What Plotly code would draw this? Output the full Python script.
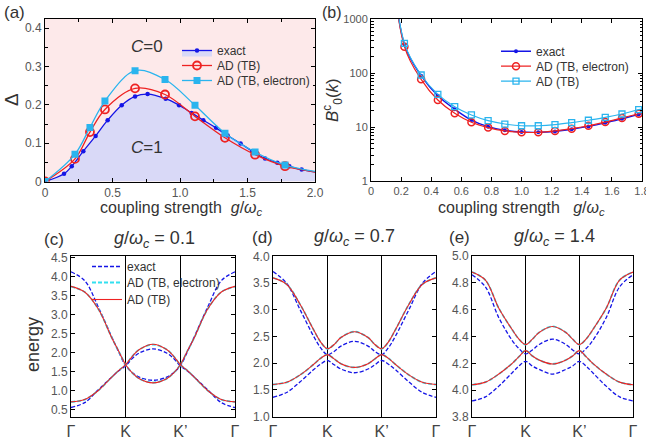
import plotly.graph_objects as go

W, H = 646, 441
FONT = "Liberation Sans, Arial, sans-serif"
BLUE = "#1515e6"
RED = "#ee2222"
CYAN_A = "#2ab4ee"
CYAN_D = "#33e0f0"

# ---------------- panel (a): gap vs coupling ----------------
a_exact_x = [0, 0.141, 0.198, 0.284, 0.375, 0.464, 0.568, 0.667, 0.760, 0.894, 0.993,
             1.086, 1.173, 1.267, 1.353, 1.449, 1.536, 1.630, 1.721, 1.810, 1.901, 2.08]
a_exact_y = [0, 0.020, 0.040, 0.079, 0.119, 0.160, 0.199, 0.222, 0.228, 0.216, 0.199,
             0.179, 0.160, 0.140, 0.120, 0.099, 0.079, 0.060, 0.049, 0.040, 0.031, 0.021]
a_ad_x = [0, 0.222, 0.333, 0.444, 0.667, 0.889, 1.111, 1.333, 1.556, 1.778, 2.222]
a_tb_y = [0, 0.059, 0.129, 0.188, 0.243, 0.227, 0.170, 0.114, 0.070, 0.040, 0.014]
a_tbe_y = [0, 0.071, 0.141, 0.210, 0.289, 0.266, 0.199, 0.126, 0.077, 0.043, 0.015]

# ---------------- panel (b): B_0^c(k) vs coupling ----------------
b_x = [0.111, 0.222, 0.333, 0.444, 0.556, 0.667, 0.778, 0.889, 1.0, 1.111, 1.222,
       1.333, 1.444, 1.556, 1.667, 1.778, 1.889]
b_exact = [1e5, 340, 90, 38, 21.5, 13.5, 10.2, 8.7, 8.1, 8.0, 8.3, 9.1, 10.3, 12.0,
           14.3, 17.2, 20.5]
b_tbe = [1e5, 311, 77, 31.8, 18.0, 12.3, 9.8, 8.5, 8.0, 8.0, 8.5, 9.35, 10.6, 12.4,
         14.8, 17.7, 21.0]
b_tb = [1e5, 358, 92.6, 40.5, 23.9, 16.8, 13.2, 11.4, 10.6, 10.6, 11.1, 12.1, 13.4,
        15.2, 17.5, 21.1, 25.0]

# ---------------- panels (c)-(e): band structures ----------------
k_path = [0, 0.25, 0.5, 0.75, 0.875, 1, 1.125, 1.25, 1.5, 1.75, 1.875, 2, 2.125,
          2.25, 2.5, 2.75, 3]
k_ticks = [0, 1, 2, 3]
k_labels = ["Γ", "K", "K’", "Γ"]

c_exact_1 = [4.13, 3.90, 3.20, 2.40, 2.01, 1.65, 1.47, 1.35, 1.27, 1.35, 1.47, 1.65, 2.01, 2.40, 3.20, 3.90, 4.13]
c_exact_2 = [0.55, 0.68, 1.02, 1.36, 1.52, 1.65, 1.85, 1.99, 2.10, 1.99, 1.85, 1.65, 1.52, 1.36, 1.02, 0.68, 0.55]
c_tbe_1 = [3.74, 3.60, 3.15, 2.38, 2.03, 1.68, 1.46, 1.31, 1.21, 1.31, 1.46, 1.68, 2.03, 2.38, 3.15, 3.60, 3.74]
c_tbe_2 = [0.70, 0.76, 1.00, 1.36, 1.53, 1.68, 1.91, 2.08, 2.21, 2.08, 1.91, 1.68, 1.53, 1.36, 1.00, 0.76, 0.70]
c_tb_1 = [3.75, 3.60, 3.15, 2.38, 2.03, 1.68, 1.46, 1.31, 1.20, 1.31, 1.46, 1.68, 2.03, 2.38, 3.15, 3.60, 3.75]
c_tb_2 = [0.70, 0.76, 1.00, 1.36, 1.53, 1.68, 1.91, 2.08, 2.22, 2.08, 1.91, 1.68, 1.53, 1.36, 1.00, 0.76, 0.70]

d_exact_1 = [3.72, 3.50, 3.00, 2.50, 2.29, 2.16, 2.22, 2.32, 2.41, 2.32, 2.22, 2.16, 2.29, 2.50, 3.00, 3.50, 3.72]
d_exact_2 = [1.36, 1.45, 1.65, 1.88, 1.98, 2.05, 1.97, 1.89, 1.82, 1.89, 1.97, 2.05, 1.98, 1.88, 1.65, 1.45, 1.36]
d_tbe_1 = [3.60, 3.48, 3.10, 2.62, 2.40, 2.27, 2.35, 2.48, 2.59, 2.48, 2.35, 2.27, 2.40, 2.62, 3.10, 3.48, 3.60]
d_tbe_2 = [1.60, 1.64, 1.78, 1.98, 2.09, 2.16, 2.08, 1.99, 1.92, 1.99, 2.08, 2.16, 2.09, 1.98, 1.78, 1.64, 1.60]
d_tb_1 = [3.60, 3.48, 3.10, 2.62, 2.40, 2.27, 2.35, 2.48, 2.59, 2.48, 2.35, 2.27, 2.40, 2.62, 3.10, 3.48, 3.60]
d_tb_2 = [1.60, 1.64, 1.78, 1.98, 2.09, 2.16, 2.08, 1.99, 1.92, 1.99, 2.08, 2.16, 2.09, 1.98, 1.78, 1.64, 1.60]

e_exact_1 = [4.86, 4.77, 4.54, 4.37, 4.31, 4.27, 4.30, 4.34, 4.38, 4.34, 4.30, 4.27, 4.31, 4.37, 4.54, 4.77, 4.86]
e_exact_2 = [3.92, 3.95, 4.03, 4.13, 4.18, 4.215, 4.18, 4.155, 4.12, 4.155, 4.18, 4.215, 4.18, 4.13, 4.03, 3.95, 3.92]
e_tbe_1 = [4.88, 4.82, 4.61, 4.45, 4.38, 4.34, 4.38, 4.43, 4.475, 4.43, 4.38, 4.34, 4.38, 4.45, 4.61, 4.82, 4.88]
e_tbe_2 = [4.04, 4.06, 4.12, 4.20, 4.25, 4.295, 4.255, 4.225, 4.195, 4.225, 4.255, 4.295, 4.25, 4.20, 4.12, 4.06, 4.04]
e_tb_1 = [4.88, 4.82, 4.61, 4.45, 4.38, 4.34, 4.38, 4.43, 4.475, 4.43, 4.38, 4.34, 4.38, 4.45, 4.61, 4.82, 4.88]
e_tb_2 = [4.04, 4.06, 4.12, 4.20, 4.25, 4.295, 4.255, 4.225, 4.195, 4.225, 4.255, 4.295, 4.25, 4.20, 4.12, 4.06, 4.04]


def px(x):
    return x / W


def py(y):
    return 1 - y / H


fig = go.Figure()

# ---- (a)
fig.add_trace(go.Scatter(x=a_exact_x, y=a_exact_y, mode="lines+markers", name="exact",
                         line=dict(color=BLUE, width=1.3, shape="spline"),
                         marker=dict(color=BLUE, size=4.5), fill="tozeroy",
                         fillcolor="#d9d9f7", xaxis="x", yaxis="y", legend="legend"))
fig.add_trace(go.Scatter(x=a_ad_x, y=a_tb_y, mode="lines+markers", name="AD (TB)",
                         line=dict(color=RED, width=1.3, shape="spline"),
                         marker=dict(symbol="circle-open", color=RED, size=8,
                                     line=dict(width=1.8)),
                         xaxis="x", yaxis="y", legend="legend2"))
fig.add_trace(go.Scatter(x=a_ad_x, y=a_tbe_y, mode="lines+markers", name="AD (TB, electron)",
                         line=dict(color=CYAN_A, width=1.3, shape="spline"),
                         marker=dict(symbol="square", color=CYAN_A, size=7),
                         xaxis="x", yaxis="y", legend="legend3"))

# ---- (b)
fig.add_trace(go.Scatter(x=b_x, y=b_exact, mode="lines+markers", name="exact",
                         line=dict(color=BLUE, width=1.4, shape="spline"),
                         marker=dict(color=BLUE, size=4),
                         xaxis="x2", yaxis="y2", legend="legend4"))
fig.add_trace(go.Scatter(x=b_x, y=b_tbe, mode="lines+markers", name="AD (TB, electron)",
                         line=dict(color=RED, width=1.2, shape="spline"),
                         marker=dict(symbol="circle-open", color=RED, size=7,
                                     line=dict(width=1.5)),
                         xaxis="x2", yaxis="y2", legend="legend5"))
fig.add_trace(go.Scatter(x=b_x, y=b_tb, mode="lines+markers", name="AD (TB)",
                         line=dict(color=CYAN_A, width=1.2, shape="spline"),
                         marker=dict(symbol="square-open", color=CYAN_A, size=6,
                                     line=dict(width=1.3)),
                         xaxis="x2", yaxis="y2", legend="legend6"))

# ---- (c), (d), (e)
panels = [
    ("x3", "y3", [c_exact_1, c_exact_2], [c_tbe_1, c_tbe_2], [c_tb_1, c_tb_2], True),
    ("x4", "y4", [d_exact_1, d_exact_2], [d_tbe_1, d_tbe_2], [d_tb_1, d_tb_2], False),
    ("x5", "y5", [e_exact_1, e_exact_2], [e_tbe_1, e_tbe_2], [e_tb_1, e_tb_2], False),
]
for xa, ya, ex, tbe, tb, show in panels:
    for i, yv in enumerate(ex):
        fig.add_trace(go.Scatter(x=k_path, y=yv, mode="lines", name="exact",
                                 line=dict(color=BLUE, width=1.3, dash="4px,2px", shape="spline"),
                                 xaxis=xa, yaxis=ya, legend="legend7",
                                 showlegend=(show and i == 0)))
    for i, yv in enumerate(tbe):
        fig.add_trace(go.Scatter(x=k_path, y=yv, mode="lines", name="AD (TB, electron)",
                                 line=dict(color=CYAN_D, width=1.8, dash="4px,2px", shape="spline"),
                                 xaxis=xa, yaxis=ya, legend="legend8",
                                 showlegend=(show and i == 0)))
    for i, yv in enumerate(tb):
        fig.add_trace(go.Scatter(x=k_path, y=yv, mode="lines", name="AD (TB)",
                                 line=dict(color=RED, width=1.1, shape="spline"),
                                 xaxis=xa, yaxis=ya, legend="legend9",
                                 showlegend=(show and i == 0)))

tickfont = dict(family=FONT, size=12, color="#555555")
common = dict(showline=True, linecolor="black", linewidth=1, ticks="inside",
              tickcolor="black", ticklen=4, tickfont=tickfont, zeroline=False,
              showgrid=False, mirror="allticks", automargin=False)

band_x = dict(common, range=[0, 3], tickvals=k_ticks, ticktext=k_labels, ticks="",
              showgrid=True, gridcolor="black", gridwidth=1, mirror=True,
              tickfont=dict(family=FONT, size=16, color="#444444"))


def leg(text_x, center_y):
    return dict(x=px(text_x - 40), y=py(center_y - 14), xanchor="left", yanchor="top",
                bgcolor="rgba(0,0,0,0)", font=dict(family=FONT, size=12, color="#333333"))


fig.update_layout(
    template="none",
    width=W, height=H, margin=dict(l=0, r=0, t=0, b=0, pad=0, autoexpand=False),
    paper_bgcolor="white", plot_bgcolor="white", hovermode=False,
    font=dict(family=FONT, color="#333333"),
    xaxis=dict(common, domain=[px(45), px(315)], range=[0, 2.0], tickvals=[0, 0.5, 1.0, 1.5, 2.0],
               ticktext=["0", "0.5", "1.0", "1.5", "2.0"], ticklabeloverflow="allow",
               minor=dict(ticks="inside", ticklen=2.5, dtick=0.25, tickcolor="black"), anchor="y"),
    yaxis=dict(common, domain=[py(181.5), py(19)], range=[0, 0.424],
               tickvals=[0, 0.1, 0.2, 0.3, 0.4], ticktext=["0", "0.1", "0.2", "0.3", "0.4"],
               minor=dict(ticks="inside", ticklen=2.5, dtick=0.05, tickcolor="black"), anchor="x"),
    xaxis2=dict(common, domain=[px(371), px(642)], range=[0, 1.8],
                tickvals=[0, 0.2, 0.4, 0.6, 0.8, 1.0, 1.2, 1.4, 1.6, 1.8],
                ticktext=["0", "0.2", "0.4", "0.6", "0.8", "1.0", "1.2", "1.4", "1.6", "1.8"],
                ticklabeloverflow="allow",
                anchor="y2", tickfont=dict(family=FONT, size=11, color="#555555")),
    yaxis2=dict(common, domain=[py(181), py(19.3)], type="log", range=[0, 3],
                tickvals=[1, 10, 100, 1000], ticktext=["1", "10", "100", "1000"],
                minor=dict(ticks="inside", ticklen=2.5, tickcolor="black", dtick="D1"),
                anchor="x2", tickfont=dict(family=FONT, size=11, color="#555555")),
    xaxis3=dict(band_x, domain=[px(71), px(235)], anchor="y3"),
    yaxis3=dict(common, domain=[py(417), py(256)], range=[0.3, 4.55], dtick=0.5,
                tickformat=".1f", anchor="x3"),
    xaxis4=dict(band_x, domain=[px(273), px(436)], anchor="y4"),
    yaxis4=dict(common, domain=[py(417), py(256)], range=[0.99, 4.01], dtick=0.5,
                tickformat=".1f", anchor="x4"),
    xaxis5=dict(band_x, domain=[px(472), px(633)], anchor="y5"),
    yaxis5=dict(common, domain=[py(417), py(256)], range=[3.8, 5.0], dtick=0.2,
                tickformat=".1f", anchor="x5"),
    legend=leg(217, 50), legend2=leg(217, 65), legend3=leg(217, 80),
    legend4=leg(536, 50.7), legend5=leg(536, 65.7), legend6=leg(536, 80.7),
    legend7=leg(127, 266), legend8=leg(127, 282), legend9=leg(127, 299),
    showlegend=True,
)

# pink background region of panel (a)
fig.add_shape(type="rect", xref="x domain", yref="y domain", x0=0, x1=1, y0=0, y1=1,
              fillcolor="#fde9ea", line=dict(width=0), layer="below")


def ann(text, x, y, size, angle=0, color="#333333", xref="paper", yref="paper"):
    fig.add_annotation(text=text, x=x, y=y, xref=xref, yref=yref, showarrow=False,
                       textangle=angle, font=dict(family=FONT, size=size, color=color),
                       xanchor="center", yanchor="middle")


G = "<i>g</i>/<i>ω</i><sub><i>c</i></sub>"
ann("(a)", px(14), py(13), 17)
ann("(b)", px(332), py(12), 16)
ann("(c)", px(54), py(239), 17)
ann("(d)", px(262), py(237), 17)
ann("(e)", px(459), py(237), 17)
ann(G + " = 0.1", px(154), py(239), 18)
ann(G + " = 0.7", px(354), py(237), 18)
ann(G + " = 1.4", px(554), py(237), 18)
ann("coupling strength  " + G, px(182), py(208), 16)
ann("coupling strength   " + G, px(521), py(208), 16)
ann("Δ", px(12), py(100), 19, angle=-90)
ann("<i>B</i><sup>c</sup><sub>0</sub>(<i>k</i>)", px(333), py(100), 17, angle=-90)
ann("energy", px(33), py(345), 18, angle=-90)
ann("<i>C</i>=0", 0.753, 0.351, 17, xref="x", yref="y")
ann("<i>C</i>=1", 0.753, 0.090, 17, xref="x", yref="y")

fig.write_html("out.html", config={"displayModeBar": False},
               post_script="document.body.style.margin='0';document.body.style.padding='0';")
